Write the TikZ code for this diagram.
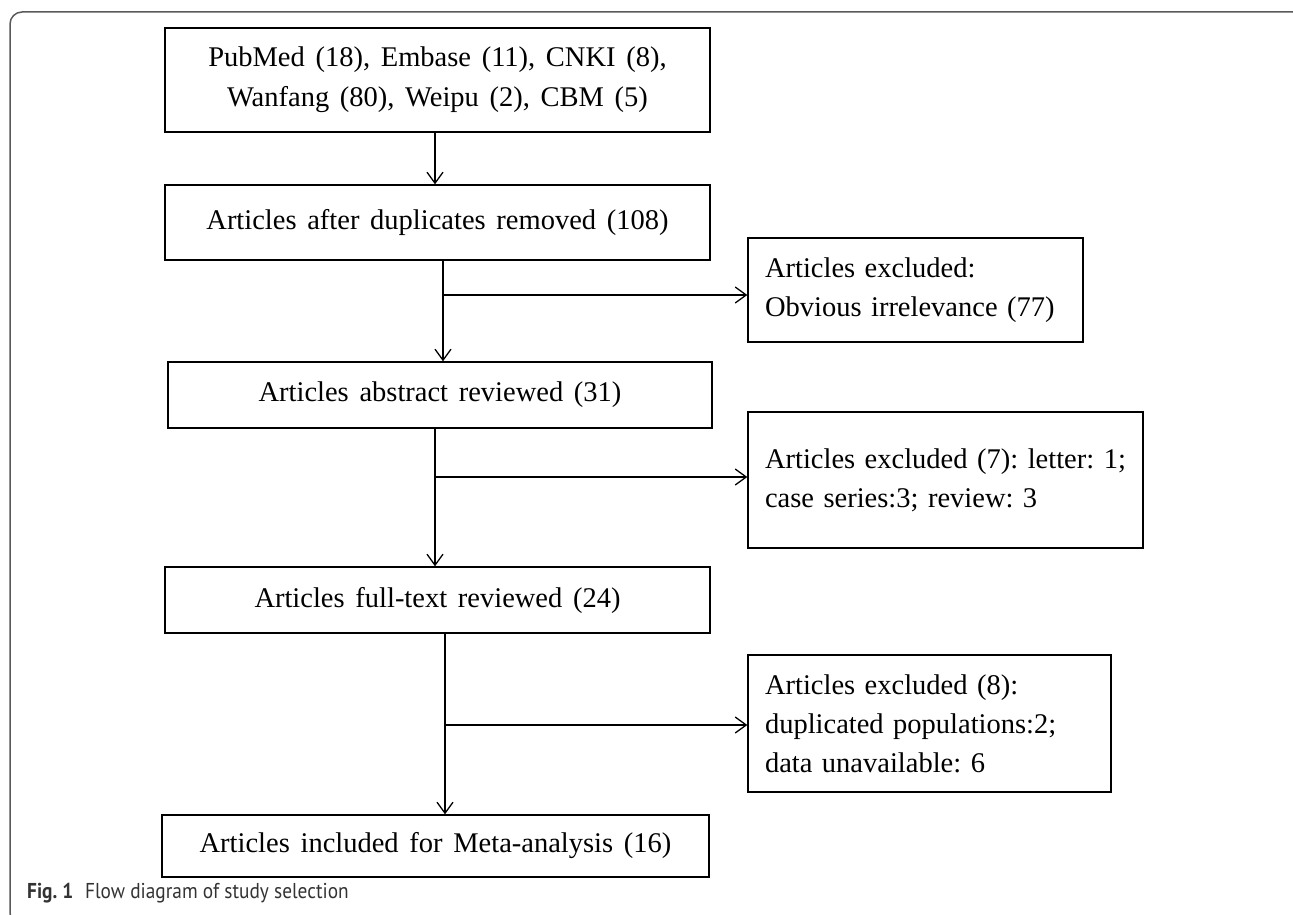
\documentclass[tikz,border=0pt]{standalone}
\usepackage{fontspec}
\setmainfont{Liberation Serif}[WordSpace=1.5]
\newfontfamily\capfont{PT Sans}[FakeStretch=0.9]
\usetikzlibrary{arrows.meta}
\begin{document}
\frenchspacing
\begin{tikzpicture}[x=1pt,y=-1pt,
 box/.style={draw,line width=1.4pt,inner sep=0pt,font=\fontsize{28.5}{40}\selectfont,align=center},
 ebox/.style={draw,line width=1.4pt,inner xsep=17pt,inner ysep=0pt,font=\fontsize{28.5}{39}\selectfont,align=left},
 arr/.style={line width=1.3pt,-{Straight Barb[length=11pt,width=16pt,line width=1.3pt]}},
 frame/.style={draw=black!65,line width=1.5pt,rounded corners=12pt}]
\useasboundingbox (0,0) rectangle (1293,915);
\clip (0,0) rectangle (1293,915);
\draw[frame] (10,12) rectangle (1305,925);

\node[box,minimum width=545pt,minimum height=104pt] (b1) at (437.5,80) {PubMed (18), Embase (11), CNKI (8),\\Wanfang (80), Weipu (2), CBM (5)};
\node[box,minimum width=545pt,minimum height=75pt] (b2) at (437.5,222.5) {Articles after duplicates removed (108)};
\node[box,minimum width=544pt,minimum height=66pt] (b3) at (440,395) {Articles abstract reviewed (31)};
\node[box,minimum width=545pt,minimum height=66pt] (b4) at (437.5,600) {Articles full-text reviewed (24)};
\node[box,minimum width=547pt,minimum height=62pt] (b5) at (435.5,846) {Articles included for Meta-analysis (16)};

\node[ebox,text width=301pt,minimum height=104pt] (e1) at (915.5,290) {\mbox{Articles excluded:}\\\mbox{Obvious irrelevance (77)}};
\node[ebox,text width=361pt,minimum height=136pt] (e2) at (945.5,480) {\mbox{Articles excluded (7): letter: 1;}\\\mbox{case series:3; review: 3}\\[-6pt]};
\node[ebox,text width=329pt,minimum height=137pt] (e3) at (929.5,723.5) {\mbox{Articles excluded (8):}\\\mbox{duplicated populations:2;}\\\mbox{data unavailable: 6}};

\coordinate (j0) at (435,150);
\coordinate (j1) at (443,295);
\coordinate (j2) at (435,477);
\coordinate (j3) at (445,725);

\draw[arr] (b1.south -| j0) -- (b2.north -| j0);
\draw[arr] (b2.south -| j1) -- (b3.north -| j1);
\draw[arr] (j1) -- (e1.west |- j1);
\draw[arr] (b3.south -| j2) -- (b4.north -| j2);
\draw[arr] (j2) -- (e2.west |- j2);
\draw[arr] (b4.south -| j3) -- (b5.north -| j3);
\draw[arr] (j3) -- (e3.west |- j3);

\node[anchor=base west,font=\capfont\fontsize{21.5}{26}\selectfont,text=black!80,inner sep=0pt] (cap) at (27,898) {\textbf{Fig. 1}\hspace{0.55em}Flow diagram of study selection};
\end{tikzpicture}
\end{document}
